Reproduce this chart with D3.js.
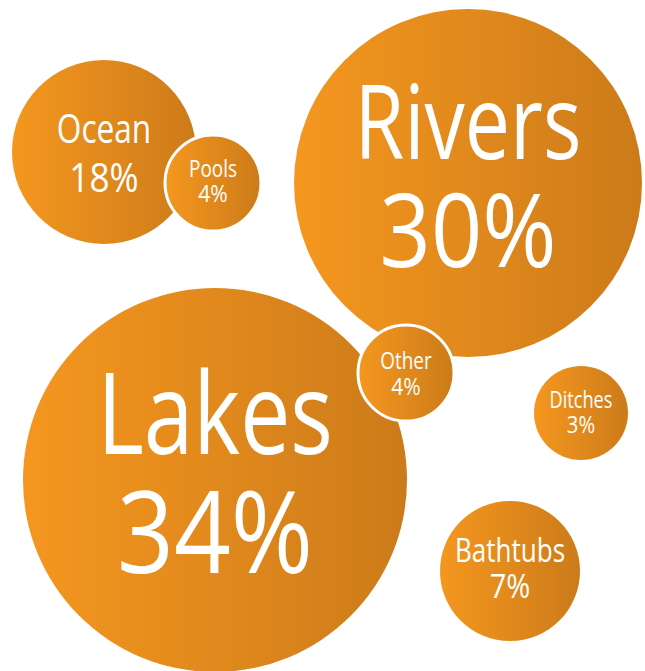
<!DOCTYPE html>
<html>
<head>
<meta charset="utf-8">
<script src="https://cdn.jsdelivr.net/npm/d3@7"></script>
<style>
  html, body { margin: 0; padding: 0; background: #fff; }
  svg { display: block; }
</style>
</head>
<body>
<script>
// data
const categories = ['Ocean', 'Rivers', 'Lakes', 'Ditches', 'Bathtubs', 'Pools', 'Other']
const values = [18, 30, 34, 3, 7, 4, 4]

// layout of the bubbles (hand placed, not proportional to the values)
const bubbleX = [104, 468, 215, 581, 510, 213, 406]
const bubbleY = [152, 183, 480, 413, 571, 183, 373]
const bubbleR = [92, 174, 192, 47, 70, 48, 48]
const fontSize = [40, 102, 113, 23, 33, 24, 24]
const lineGap = [1.22, 1.06, 1.05, 1.1, 1.09, 1.04, 1.08]
const textShift = [1, -6.5, -7, -1, -3, -2, 0]
const ringed = ['Pools', 'Other']

const WIDTH = 645
const HEIGHT = 671
// condensed look of the original typeface
const squeezeName = 0.79
const squeezeValue = 0.88

const svg = d3.select('body')
  .append('svg')
  .attr('width', WIDTH)
  .attr('height', HEIGHT)

const grad = svg.append('defs')
  .append('linearGradient')
  .attr('id', 'orange')
  .attr('x1', '0%').attr('y1', '0%')
  .attr('x2', '100%').attr('y2', '0%')
grad.append('stop').attr('offset', '0%').attr('stop-color', '#F5971F')
grad.append('stop').attr('offset', '100%').attr('stop-color', '#CC7B1A')

const bubbles = categories.map((c, i) => ({
  name: c,
  value: values[i],
  x: bubbleX[i],
  y: bubbleY[i],
  r: bubbleR[i],
  fs: fontSize[i],
  lh: lineGap[i],
  shift: textShift[i]
}))

const g = svg.selectAll('g.bubble')
  .data(bubbles)
  .enter()
  .append('g')
  .attr('class', 'bubble')
  .attr('transform', d => `translate(${d.x},${d.y})`)

g.append('circle')
  .attr('r', d => d.r)
  .attr('fill', 'url(#orange)')
  .attr('stroke', d => ringed.includes(d.name) ? '#fff' : 'none')
  .attr('stroke-width', 3)

// two lines: name and percentage, block centred on the bubble
const capH = 0.714
const firstBase = d => d.shift - (capH * d.fs + d.lh * d.fs) / 2 + capH * d.fs

const textStyle = sel => sel
  .attr('fill', '#fff')
  .attr('font-family', '"Open Sans", "Noto Sans", sans-serif')
  .attr('font-weight', 400)
  .attr('text-anchor', 'middle')
  .attr('font-size', d => d.fs)

g.append('text')
  .call(textStyle)
  .attr('transform', d => `translate(0,${firstBase(d)}) scale(${squeezeName},1)`)
  .text(d => d.name)

g.append('text')
  .call(textStyle)
  .attr('transform', d => `translate(0,${firstBase(d) + d.lh * d.fs}) scale(${squeezeValue},1)`)
  .text(d => d.value + '%')
</script>
</body>
</html>
